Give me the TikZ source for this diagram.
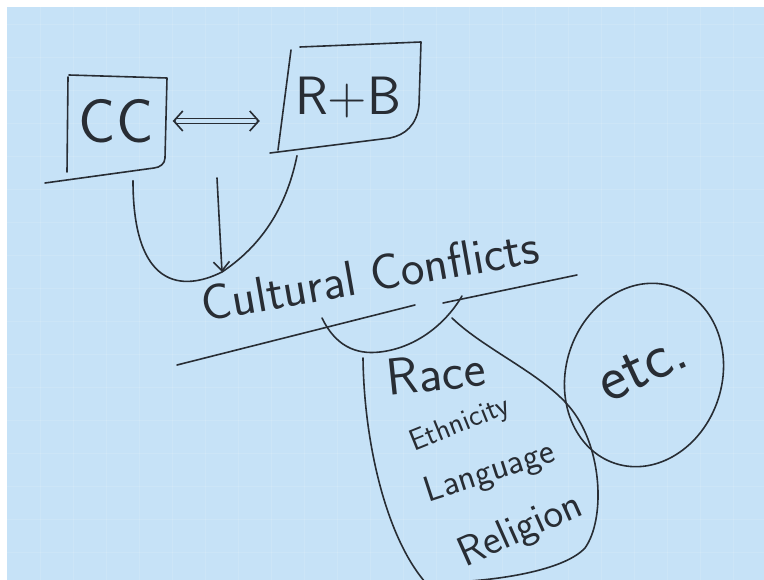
\documentclass[tikz,border=0pt]{standalone}
\usepackage{xcolor}
\usepackage{tikz}
\usetikzlibrary{arrows.meta,positioning,calc}

\definecolor{board}{RGB}{198,226,247}
\definecolor{ink}{RGB}{40,45,52}

\tikzset{
  pen/.style={ink,line width=1.6pt,line cap=round,line join=round},
  hand/.style={ink,font=\sffamily\fontsize{#1}{#1}\selectfont,inner sep=0pt},
}

\begin{document}
\begin{tikzpicture}[x=1pt,y=-1pt]
  \useasboundingbox (0,0) rectangle (764,580);
  \fill[white] (0,0) rectangle (764,580);
  \fill[board] (7,7) rectangle (764,580);
  % faint grid on the board
  \foreach \gx in {40,73,...,764}
    \draw[white,opacity=0.12,line width=0.8pt] (\gx,7) -- (\gx,580);
  \foreach \gy in {24,57,...,580}
    \draw[white,opacity=0.12,line width=0.8pt] (7,\gy) -- (764,\gy);

  % the two boxes
  \node[hand=62,minimum width=97pt,minimum height=95pt] (cc) at (116,121) {CC};
  \draw[pen] (69,75) -- (167,78) -- (165,158) to[out=-90,in=5] (154,168) -- (45,183);
  \draw[pen] (68,77) -- (67,172);
  \node[hand=54,minimum width=136pt,minimum height=105pt] (rb) at (348,97) {R+B};
  \draw[pen] (300,47) -- (421,42) -- (419,105)
    .. controls (417,125) and (405,135) .. (390,138) -- (270,153);
  \draw[pen] (291,50) -- (278,150);

  % arrows and labels
  \draw[pen,{Straight Barb[length=9pt,width=20pt]}-{Straight Barb[length=9pt,width=20pt]},
        shorten <=8pt,shorten >=20pt]
    (cc.east) -- (cc.east -| rb.west);
  \draw[pen,line width=1.4pt,double=board,double distance=4pt,
        shorten <=13pt,shorten >=25pt]
    (cc.east) -- (cc.east -| rb.west);

  \node[hand=50,rotate=10] (cul) at (370,275) {Cultural Conflicts};
  \coordinate (meet) at (222,272);
  \coordinate (drop) at (217,178);
  \draw[pen] ([shift={(17,12)}]cc.south)
    .. controls (133,288) and (182,292) .. (meet);
  \draw[pen,-{Straight Barb[length=9pt,width=16pt]}] (drop) -- (meet);
  \draw[pen] ([shift={(-51,6)}]rb.south)
    .. controls (285,215) and (255,250) .. (meet);
  \draw[pen] (177,365) -- (415,305);
  \draw[pen] (443,303) -- (577,275);

  % what the conflicts are about
  \draw[pen] (322,318) .. controls (335,345) and (355,355) .. (380,352)
    .. controls (415,348) and (445,325) .. (462,296);
  \draw[pen] (363,358) .. controls (364,440) and (385,535) .. (425,582)
    .. controls (470,584) and (560,575) .. (585,548)
    .. controls (605,520) and (603,450) .. (572,410)
    .. controls (545,375) and (485,350) .. (452,318);
  \node[hand=52,rotate=6] (race) at (436,373) {Race};
  \node[hand=30,rotate=22] (eth) at (460,425) {Ethnicity};
  \node[hand=36,rotate=18] (lang) at (490,473) {Language};
  \node[hand=42,rotate=24] (rel) at (521,531) {Religion};

  \draw[pen,rotate around={-18:(644,375)}] (644,375) ellipse (78 and 93);
  \node[hand=64,rotate=25] (etc) at (643,368) {etc.};
\end{tikzpicture}
\end{document}
